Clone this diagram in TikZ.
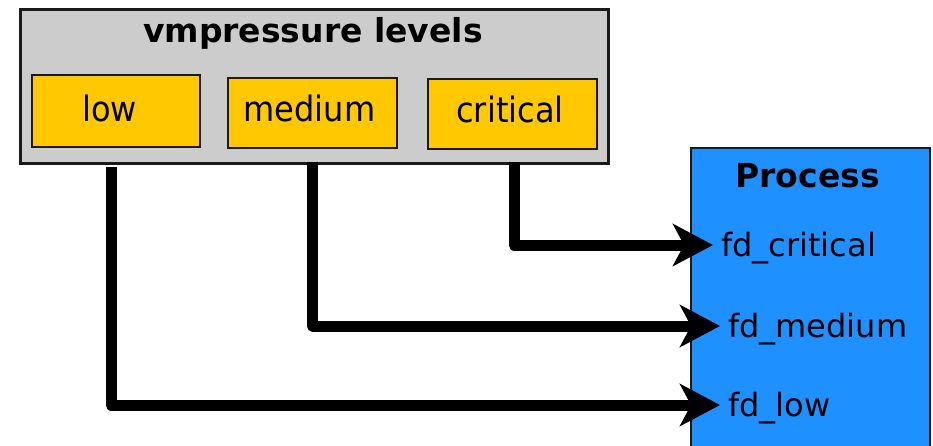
\documentclass[tikz,border=0pt]{standalone}
\usepackage{fontspec}
\setmainfont{DejaVu Sans}
\newfontfamily\levelfont[FakeStretch=0.915]{DejaVu Sans}
\usetikzlibrary{arrows.meta}

\definecolor{panelgray}{HTML}{CCCCCC}
\definecolor{levelyellow}{HTML}{FFC800}
\definecolor{procblue}{HTML}{1E90FF}
\definecolor{edgedark}{HTML}{1A1A1A}

\tikzset{
  px/.style={x=1pt,y=-1pt},
  panel/.style={draw=edgedark, line width=2.5pt, fill=panelgray, rectangle, inner sep=0pt},
  levelbox/.style={draw=edgedark, line width=2pt, fill=levelyellow, rectangle, inner sep=0pt,
    minimum height=70pt},
  leveltext/.style={inner sep=0pt, anchor=base, font=\levelfont\fontsize{35}{40}\selectfont},
  procbox/.style={draw=edgedark, line width=2pt, fill=procblue},
  heading/.style={inner sep=0pt, anchor=base, font=\fontsize{33}{38}\selectfont\bfseries},
  fdlabel/.style={anchor=west, inner ysep=0pt, inner xsep=8pt, text height=24pt, text depth=2pt,
    font=\fontsize{32}{38}\selectfont},
  conn/.style={line width=11pt, line join=round,
    -{Stealth[length=40pt, width=42pt, inset=11pt]}},
}

\begin{document}
\begin{tikzpicture}[px]
  \path[use as bounding box] (0,0) rectangle (933,445);
  \clip (0,0) rectangle (933,445);

  % panel holding the three pressure levels
  \node[panel, minimum width=588pt, minimum height=154pt, anchor=north west] (levels) at (19,8) {};
  \node[heading] (levelsTitle) at (313,42) {vmpressure levels};

  \node[levelbox, minimum width=168pt, minimum height=72pt] (low) at (116,111) {};
  \node[levelbox, minimum width=169pt] (medium) at (312.5,113) {};
  \node[levelbox, minimum width=169pt] (critical) at (512.5,114) {};
  \node[leveltext] (lowText) at (109.5,121) {low};
  \node[leveltext] (mediumText) at (309.5,121) {medium};
  \node[leveltext] (criticalText) at (510,122) {critical};

  % receiving process (runs past the lower edge)
  \draw[procbox] (691,470) -- (691,148) -- (930,148) -- (930,470);
  \node[heading] (procTitle) at (807.5,187) {Process};

  \node[fdlabel] (fdcrit) at (713,245) {fd\_critical};
  \node[fdlabel] (fdmed) at (720,326) {fd\_medium};
  \node[fdlabel] (fdlow) at (720,405) {fd\_low};

  % notification paths
  \coordinate (lowStart) at (111,167);
  \coordinate (medStart) at (312.5,162);
  \coordinate (critStart) at (514,162);

  \draw[conn] (lowStart) |- (fdlow.west);
  \draw[conn] (medStart) |- (fdmed.west);
  \draw[conn] (critStart) |- (fdcrit.west);
\end{tikzpicture}
\end{document}
